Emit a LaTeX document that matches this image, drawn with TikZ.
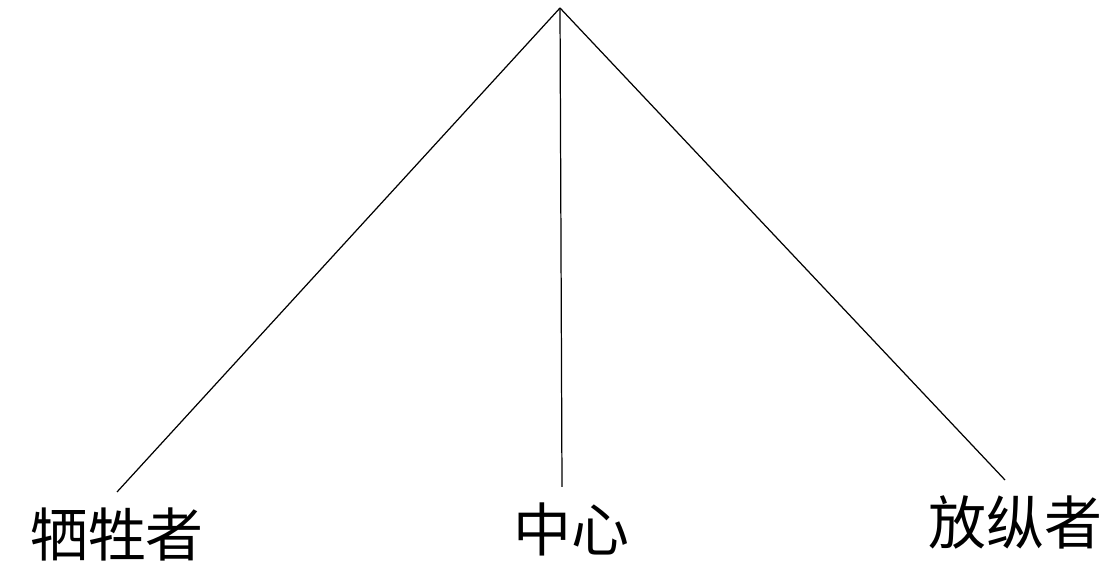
\documentclass[tikz,border=0pt]{standalone}
\usepackage{fontspec}
\newfontfamily\cjk{Noto Sans CJK SC}
\usetikzlibrary{positioning}

\begin{document}
\begin{tikzpicture}[line width=0.7pt,
  role node/.style={anchor=north,inner sep=0.3cm,font=\cjk\fontsize{33}{33}\selectfont}]
  \useasboundingbox (0,0) rectangle (22.4,11.44);

  \coordinate (top) at (11.2,11.28);

  \node[role node] (victim) at (2.34,1.6) {牺牲者};
  \node[role node] (centre) at (11.42,1.7) {中心};
  \node[role node] (indulger) at (20.3,1.84) {放纵者};

  % Lines from the apex
  \draw (top) -- (victim.north);
  \draw (top) -- ([xshift=-0.18cm]centre.north);
  \draw (top) -- ([xshift=-0.2cm]indulger.north);

\end{tikzpicture}
\end{document}
